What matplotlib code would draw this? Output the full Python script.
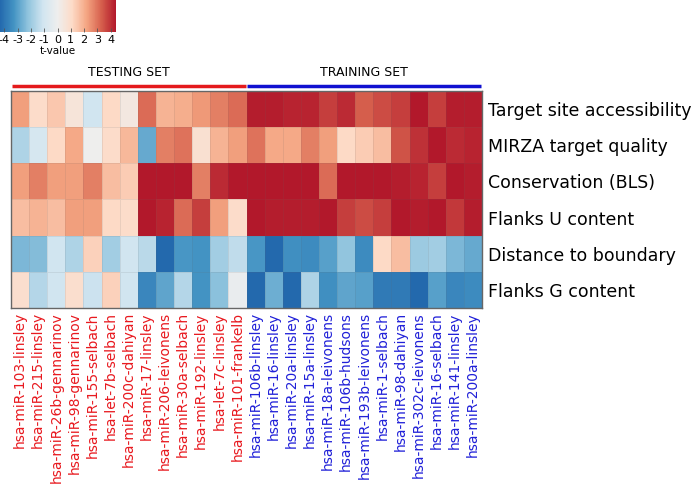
import numpy as np
import matplotlib
matplotlib.use("Agg")
import matplotlib.pyplot as plt
from matplotlib.colors import Normalize, LinearSegmentedColormap
import matplotlib.cm as cm

plt.rcParams["axes.unicode_minus"] = False

features = ["Target site accessibility", "MIRZA target quality", "Conservation (BLS)",
            "Flanks U content", "Distance to boundary", "Flanks G content"]

testing = ["hsa-miR-103-linsley", "hsa-miR-215-linsley", "hsa-miR-26b-gennarinov",
           "hsa-miR-98-gennarinov", "hsa-miR-155-selbach", "hsa-let-7b-selbach",
           "hsa-miR-200c-dahiyan", "hsa-miR-17-linsley", "hsa-miR-206-leivonens",
           "hsa-miR-30a-selbach", "hsa-miR-192-linsley", "hsa-let-7c-linsley",
           "hsa-miR-101-frankelb"]
training = ["hsa-miR-106b-linsley", "hsa-miR-16-linsley", "hsa-miR-20a-linsley",
            "hsa-miR-15a-linsley", "hsa-miR-18a-leivonens", "hsa-miR-106b-hudsons",
            "hsa-miR-193b-leivonens", "hsa-miR-1-selbach", "hsa-miR-98-dahiyan",
            "hsa-miR-302c-leivonens", "hsa-miR-16-selbach", "hsa-miR-141-linsley",
            "hsa-miR-200a-linsley"]

accessibility = [2.3, 1.0, 1.5, 0.6, -1.1, 1.1, 0.4, 3.1, 1.9, 2.0, 2.4, 2.8, 3.1,
                 4.3, 4.3, 4.2, 4.2, 3.8, 4.1, 3.3, 3.6, 3.8, 4.4, 3.8, 4.3, 4.3]
mirza = [-1.7, -0.9, 1.1, 2.1, 0.0, 1.0, 1.8, -2.8, 2.8, 3.0, 0.8, 1.9, 2.3,
         3.0, 2.1, 2.1, 2.8, 2.3, 1.1, 1.4, 1.7, 3.5, 4.0, 4.4, 4.1, 4.2]
conservation = [2.3, 2.8, 2.3, 2.3, 2.8, 1.7, 1.4, 4.4, 4.4, 4.4, 2.8, 4.1, 4.4,
                4.4, 4.4, 4.4, 4.4, 3.1, 4.4, 4.4, 4.4, 4.3, 4.2, 3.8, 4.4, 4.3]
flanks_u = [1.7, 1.9, 1.7, 2.3, 2.3, 1.1, 1.0, 4.4, 4.2, 3.1, 3.8, 2.3, 1.0,
            4.4, 4.3, 4.3, 4.3, 4.4, 3.8, 3.6, 3.8, 4.4, 4.3, 4.4, 3.9, 4.3]
distance = [-2.5, -2.4, -1.1, -1.7, 1.3, -1.9, -1.1, -1.5, -4.3, -3.2, -3.3, -1.9, -1.4,
            -3.2, -4.3, -3.4, -3.5, -3.0, -2.2, -3.5, 1.1, 1.7, -2.0, -1.9, -2.5, -2.8]
flanks_g = [0.9, -1.6, -1.1, 0.9, -1.2, 1.3, -1.1, -3.6, -2.9, -1.6, -3.3, -2.3, -0.2,
            -4.3, -2.7, -4.3, -1.7, -3.4, -2.9, -3.0, -3.9, -3.9, -4.3, -3.0, -3.6, -3.5]

cbar_ticks = [-4, -3, -2, -1, 0, 1, 2, 3, 4]

data = np.array([accessibility, mirza, conservation, flanks_u, distance, flanks_g])
labels = testing + training
ntest = len(testing)
ncol = len(labels)

vmin, vmax = -4.4, 4.4
cmap = LinearSegmentedColormap.from_list(
    "rdbu9", ["#2166ac", "#4393c3", "#92c5de", "#d1e5f0", "#eeeeee",
              "#fddbc7", "#f4a582", "#d6604d", "#b2182b"])
norm = Normalize(vmin=vmin, vmax=vmax)

W, H = 696, 486
fig = plt.figure(figsize=(W / 100, H / 100), dpi=100)

# heatmap
left, right, top, bottom = 11, 482, 91, 308
ax = fig.add_axes([left / W, 1 - bottom / H, (right - left) / W, (bottom - top) / H])
ax.pcolormesh(np.arange(ncol + 1), np.arange(len(features) + 1), data,
              cmap=cmap, norm=norm, edgecolors=(0.4, 0.4, 0.4, 0.12), linewidth=0.4)
ax.set_xlim(0, ncol)
ax.set_ylim(len(features), 0)
for s in ax.spines.values():
    s.set_color("#666666")
    s.set_linewidth(1.0)
ax.set_xticks(np.arange(ncol) + 0.5)
ax.set_xticklabels(labels, rotation=90, fontsize=10)
for i, t in enumerate(ax.get_xticklabels()):
    t.set_color("#e8191f" if i < ntest else "#2020d8")
ax.tick_params(axis="x", length=0, pad=3)
ax.set_yticks(np.arange(len(features)) + 0.5)
ax.set_yticklabels(features, fontsize=12.5)
ax.yaxis.tick_right()
ax.tick_params(axis="y", length=0, pad=4)

# group bars
ax.plot([0.05, ntest - 0.05], [-0.15, -0.15], color="#e41a1c", lw=2.5,
        clip_on=False, solid_capstyle="butt")
ax.plot([ntest + 0.05, ncol - 0.05], [-0.15, -0.15], color="#1010d0", lw=2.5,
        clip_on=False, solid_capstyle="butt")
ax.text(ntest / 2, -0.33, "TESTING SET", ha="center", va="bottom", fontsize=9)
ax.text(ntest + (ncol - ntest) / 2, -0.33, "TRAINING SET", ha="center", va="bottom", fontsize=9)

# colorbar
cax = fig.add_axes([-1 / W, 1 - 32 / H, 117 / W, 32 / H])
cb = fig.colorbar(cm.ScalarMappable(norm=norm, cmap=cmap), cax=cax, orientation="horizontal")
cb.set_ticks(cbar_ticks)
cb.ax.tick_params(labelsize=8, length=3, direction="in", pad=2, width=0.6, color="#555555")
cb.outline.set_visible(False)
cb.set_label("t-value", fontsize=7.5, labelpad=1)

fig.savefig("out.png", dpi=100)
